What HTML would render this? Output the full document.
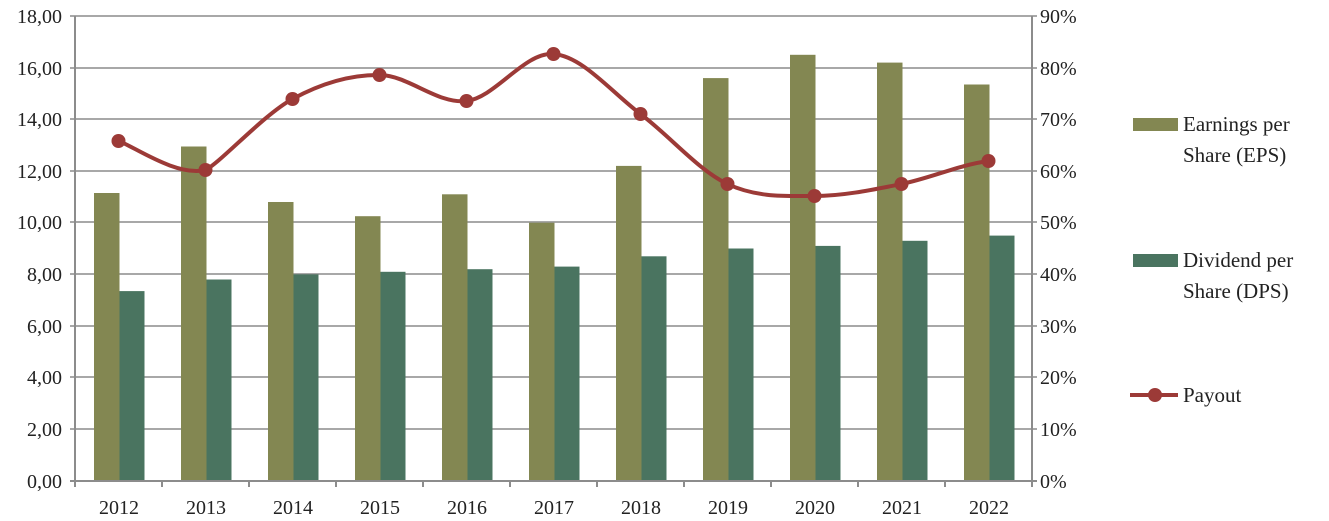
<!DOCTYPE html><html><head><style>body{margin:0;background:#fff}svg{display:block}text{font-family:"Liberation Serif",serif;fill:#222}</style></head><body>
<svg width="1329" height="521" xmlns="http://www.w3.org/2000/svg">
<g stroke="#8c8c8c" stroke-width="1.5">
<line x1="70" y1="16" x2="1037" y2="16"/><line x1="70" y1="68" x2="1037" y2="68"/><line x1="70" y1="119" x2="1037" y2="119"/><line x1="70" y1="171" x2="1037" y2="171"/><line x1="70" y1="222" x2="1037" y2="222"/><line x1="70" y1="274" x2="1037" y2="274"/><line x1="70" y1="326" x2="1037" y2="326"/><line x1="70" y1="377" x2="1037" y2="377"/><line x1="70" y1="429" x2="1037" y2="429"/>
</g>
<g fill="#838752">
<rect x="94" y="193.0" width="25.5" height="288.0"/>
<rect x="181" y="146.5" width="25.5" height="334.5"/>
<rect x="268" y="202.0" width="25.5" height="279.0"/>
<rect x="355" y="216.2" width="25.5" height="264.8"/>
<rect x="442" y="194.3" width="25.5" height="286.7"/>
<rect x="529" y="222.7" width="25.5" height="258.3"/>
<rect x="616" y="165.9" width="25.5" height="315.1"/>
<rect x="703" y="78.1" width="25.5" height="402.9"/>
<rect x="790" y="54.8" width="25.5" height="426.2"/>
<rect x="877" y="62.6" width="25.5" height="418.4"/>
<rect x="964" y="84.5" width="25.5" height="396.5"/>
</g>
<g fill="#4a7460">
<rect x="119.5" y="291.1" width="25" height="189.9"/>
<rect x="206.5" y="279.5" width="25" height="201.5"/>
<rect x="293.5" y="274.4" width="25" height="206.6"/>
<rect x="380.5" y="271.8" width="25" height="209.2"/>
<rect x="467.5" y="269.2" width="25" height="211.8"/>
<rect x="554.5" y="266.6" width="25" height="214.4"/>
<rect x="641.5" y="256.3" width="25" height="224.7"/>
<rect x="728.5" y="248.5" width="25" height="232.5"/>
<rect x="815.5" y="245.9" width="25" height="235.1"/>
<rect x="902.5" y="240.8" width="25" height="240.2"/>
<rect x="989.5" y="235.6" width="25" height="245.4"/>
</g>
<g stroke="#8c8c8c" stroke-width="2">
<line x1="75" y1="16" x2="75" y2="481"/><line x1="1032" y1="16" x2="1032" y2="481"/><line x1="70" y1="481" x2="1037" y2="481"/>
<line x1="75" y1="481" x2="75" y2="487"/><line x1="162" y1="481" x2="162" y2="487"/><line x1="249" y1="481" x2="249" y2="487"/><line x1="336" y1="481" x2="336" y2="487"/><line x1="423" y1="481" x2="423" y2="487"/><line x1="510" y1="481" x2="510" y2="487"/><line x1="597" y1="481" x2="597" y2="487"/><line x1="684" y1="481" x2="684" y2="487"/><line x1="771" y1="481" x2="771" y2="487"/><line x1="858" y1="481" x2="858" y2="487"/><line x1="945" y1="481" x2="945" y2="487"/><line x1="1032" y1="481" x2="1032" y2="487"/>
</g>
<g font-size="20" text-anchor="end">
<text x="62" y="23">18,00</text><text x="62" y="75">16,00</text><text x="62" y="126">14,00</text><text x="62" y="178">12,00</text><text x="62" y="229">10,00</text><text x="62" y="281">8,00</text><text x="62" y="333">6,00</text><text x="62" y="384">4,00</text><text x="62" y="436">2,00</text><text x="62" y="488">0,00</text>
</g>
<g font-size="20">
<text x="1040" y="23">90%</text><text x="1040" y="75">80%</text><text x="1040" y="126">70%</text><text x="1040" y="178">60%</text><text x="1040" y="229">50%</text><text x="1040" y="281">40%</text><text x="1040" y="333">30%</text><text x="1040" y="384">20%</text><text x="1040" y="436">10%</text><text x="1040" y="488">0%</text>
</g>
<g font-size="20" text-anchor="middle">
<text x="119" y="514">2012</text><text x="206" y="514">2013</text><text x="293" y="514">2014</text><text x="380" y="514">2015</text><text x="467" y="514">2016</text><text x="554" y="514">2017</text><text x="641" y="514">2018</text><text x="728" y="514">2019</text><text x="815" y="514">2020</text><text x="902" y="514">2021</text><text x="989" y="514">2022</text>
</g>
<path d="M118.5,141 C133,145.8 176.5,177 205.5,170 C220,163 263.5,114.8 292.5,99 C321.5,83.2 350.5,74.7 379.5,75 C408.5,75.3 437.5,104.5 466.5,101 C495.5,97.5 524.5,51.8 553.5,54 C582.5,56.2 611.5,92.3 640.5,114 C669.5,135.7 698.5,170.3 727.5,184 C756.5,197.7 785.5,196 814.5,196 C843.5,196 872.5,189.8 901.5,184 C930.5,178.2 959.5,164.8 988.5,161" fill="none" stroke="#9c3a37" stroke-width="4"/>
<g fill="#9c3a37">
<circle cx="118.5" cy="141" r="7"/><circle cx="205.5" cy="170" r="7"/><circle cx="292.5" cy="99" r="7"/><circle cx="379.5" cy="75" r="7"/><circle cx="466.5" cy="101" r="7"/><circle cx="553.5" cy="54" r="7"/><circle cx="640.5" cy="114" r="7"/><circle cx="727.5" cy="184" r="7"/><circle cx="814.5" cy="196" r="7"/><circle cx="901.5" cy="184" r="7"/><circle cx="988.5" cy="161" r="7"/>
</g>
<rect x="1133" y="118" width="45" height="13" fill="#838752"/>
<rect x="1133" y="254" width="45" height="13" fill="#4a7460"/>
<line x1="1130" y1="395" x2="1178" y2="395" stroke="#9c3a37" stroke-width="4"/><circle cx="1155" cy="395" r="7" fill="#9c3a37"/>
<g font-size="21">
<text x="1183" y="131">Earnings per</text><text x="1183" y="162">Share (EPS)</text>
<text x="1183" y="267">Dividend per</text><text x="1183" y="298">Share (DPS)</text>
<text x="1183" y="402">Payout</text>
</g>
</svg></body></html>
